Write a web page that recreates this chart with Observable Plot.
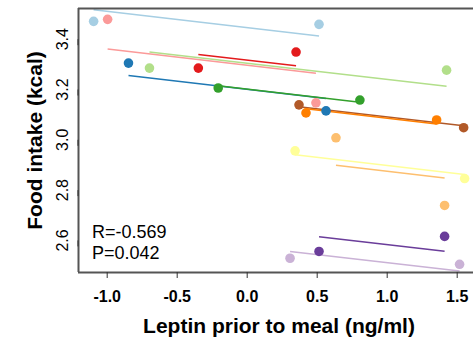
<!DOCTYPE html>
<html><head><meta charset="utf-8">
<script src="https://cdn.jsdelivr.net/npm/d3@7"></script>
<script src="https://cdn.jsdelivr.net/npm/@observablehq/plot@0.6"></script>
<style>html,body{margin:0;padding:0;background:#fff;overflow:hidden;}</style>
</head><body><div id="chart"></div>
<script>
const subjects = ["S1","S2","S3","S4","S5","S6","S7","S8","S9","S10","S11","S12"];
const colors = ["#a6cee3","#fb9a99","#1f78b4","#b2df8a","#e31a1c","#33a02c","#b15928","#ff7f00","#fdbf6f","#ffff99","#6a3d9a","#cab2d6"];
const leptinVisit1 = [-1.097, -0.997, -0.848, -0.698, -0.349, -0.207, 0.370, 0.420, 0.634, 0.342, 0.513, 0.306];
const intakeVisit1 = [3.471, 3.479, 3.305, 3.285, 3.285, 3.206, 3.139, 3.107, 3.008, 2.956, 2.556, 2.529];
const leptinVisit2 = [0.513, 0.491, 0.563, 1.424, 0.349, 0.805, 1.546, 1.353, 1.410, 1.553, 1.410, 1.517];
const intakeVisit2 = [3.459, 3.147, 3.115, 3.277, 3.349, 3.158, 3.048, 3.079, 2.739, 2.846, 2.616, 2.505];
const xTicks = [-1.0, -0.5, 0.0, 0.5, 1.0, 1.5];
const yTicks = [2.6, 2.8, 3.0, 3.2, 3.4];
const statLines = ["R=-0.569", "P=0.042"];
const xLabel = "Leptin prior to meal (ng/ml)";
const yLabel = "Food intake (kcal)";

const points = [];
subjects.forEach((s, i) => {
  points.push({s, x: leptinVisit1[i], y: intakeVisit1[i], c: colors[i]});
  points.push({s, x: leptinVisit2[i], y: intakeVisit2[i], c: colors[i]});
});

// repeated-measures correlation: common slope, subject-specific intercepts
let num = 0, den = 0;
const means = subjects.map((s, i) => {
  const xs = [leptinVisit1[i], leptinVisit2[i]], ys = [intakeVisit1[i], intakeVisit2[i]];
  const mx = d3.mean(xs), my = d3.mean(ys);
  xs.forEach((x, k) => { num += (x - mx) * (ys[k] - my); den += (x - mx) ** 2; });
  return {mx, my, lo: d3.min(xs), hi: d3.max(xs)};
});
const beta = num / den;
const fits = subjects.map((s, i) => {
  const m = means[i];
  return {s, c: colors[i], x1: m.lo, y1: m.my + beta * (m.lo - m.mx), x2: m.hi, y2: m.my + beta * (m.hi - m.mx)};
});

const W = 473, H = 337, mL = 78, mT = 8, mB = 65;
const pxPerX = 140, x0px = 246.7, pxPerY = 251.5, y0px = 139.3;
const xDomain = [(mL - x0px) / pxPerX, (478 - x0px) / pxPerX];
const yDomain = [3.0 - (H - mB - y0px) / pxPerY, 3.0 + (y0px - mT) / pxPerY];
const fmt = d => d.toFixed(1);

const chart = Plot.plot({
  width: W, height: H,
  marginLeft: mL, marginTop: mT, marginBottom: mB, marginRight: 0,
  style: {fontFamily: "'Liberation Sans', Arial, sans-serif", background: "#fff", color: "#000"},
  x: {domain: xDomain, range: [mL, 478]},
  y: {domain: yDomain, range: [H - mB, mT]},
  marks: [
    Plot.link(fits, {x1: "x1", y1: "y1", x2: "x2", y2: "y2", stroke: d => d.c, strokeWidth: 1.5}),
    Plot.dot(points, {x: "x", y: "y", fill: d => d.c, r: 4.8}),
    Plot.ruleX([xDomain[0]], {stroke: "#555", strokeWidth: 2}),
    Plot.ruleY([yDomain[0]], {stroke: "#555", strokeWidth: 2}),
    Plot.ruleY([yDomain[1]], {stroke: "#555", strokeWidth: 2}),
    Plot.axisX(xTicks, {tickSize: 6, tickPadding: 12, tickFormat: fmt, fontSize: 16, fontWeight: "bold", label: null, stroke: "#333"}),
    Plot.axisY(yTicks, {tickSize: 6, tickPadding: 10, tickFormat: fmt, fontSize: 16, rotate: -90, textAnchor: "middle", label: null, stroke: "#333"}),
    Plot.text([xLabel], {frameAnchor: "bottom", dx: 3, dy: 54, lineAnchor: "middle", fontSize: 21, fontWeight: "bold"}),
    Plot.text([yLabel], {frameAnchor: "left", dx: -43, rotate: -90, lineAnchor: "middle", textAnchor: "middle", fontSize: 21, fontWeight: "bold"}),
    Plot.text([statLines.join("\n")], {frameAnchor: "bottom-left", dx: 13.5, dy: -30.5, lineAnchor: "middle", textAnchor: "start", lineHeight: 1.17, fontSize: 18})
  ]
});
document.getElementById("chart").appendChild(chart);
</script>
</body></html>
